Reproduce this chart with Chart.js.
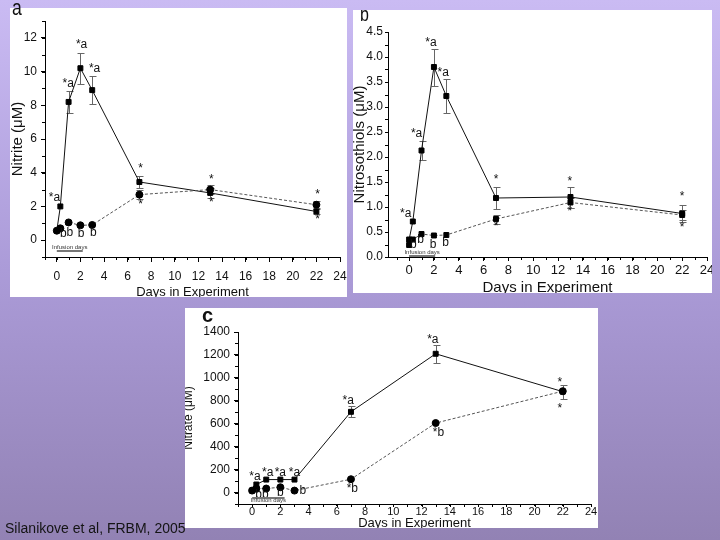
<!DOCTYPE html>
<html>
<head>
<meta charset="utf-8">
<script src="https://cdn.jsdelivr.net/npm/chart.js@4.4.1/dist/chart.umd.min.js"></script>
<style>
  html, body { margin: 0; padding: 0; }
  body {
    width: 720px; height: 540px; position: relative; overflow: hidden;
    background: linear-gradient(to bottom, #cabbf3 0%, #ab9bd8 50%, #9282b4 100%);
    font-family: 'Liberation Sans', Arial, sans-serif;
  }
  .box { position: absolute; background: #fff; overflow: hidden; }
  .box canvas { position: absolute; left: 0; top: 0; }
  .lett { position: absolute; color: #111; line-height: 1; z-index: 2; }
  #cite { position: absolute; left: 5px; top: 521px; font-size: 14px; line-height: 1; color: #141414; }
</style>
</head>
<body>
<div class="box" style="left:10px;top:8px;width:337px;height:289px">
  <canvas id="ca" width="337" height="291"></canvas>
</div>
<div class="lett" style="left:12px;top:-3px;font-size:22px;transform:scaleX(0.8);transform-origin:left top">a</div>
<div class="box" style="left:353px;top:10px;width:359px;height:283px">
  <canvas id="cb" width="359" height="285"></canvas>
  <div class="lett" style="left:7px;top:-6px;font-size:20px;transform:scaleX(0.8);transform-origin:left top">b</div>
</div>
<div class="box" style="left:185px;top:308px;width:413px;height:220px">
  <canvas id="cc" width="413" height="222"></canvas>
  <div class="lett" style="left:17px;top:-3px;font-size:20px;font-weight:bold">c</div>
</div>
<div id="cite">Silanikove et al, FRBM, 2005</div>

<script>
// sampling days (same for all three panels)
const days = [0, 0.3, 1, 2, 3, 7, 13, 22];

// tick labels
const xTicks = [0, 2, 4, 6, 8, 10, 12, 14, 16, 18, 20, 22, 24];
const yTicksA = [0, 2, 4, 6, 8, 10, 12];
const yTicksB = [0, 0.5, 1, 1.5, 2, 2.5, 3, 3.5, 4, 4.5];
const yTicksC = [0, 200, 400, 600, 800, 1000, 1200, 1400];

// a: nitrite (uM)
const nitriteInfused = [0.56, 2.0, 8.2, 10.2, 8.9, 3.45, 2.8, 1.7];
const nitriteInfusedErr = [0, 0, 0.65, 0.93, 0.85, 0.37, 0.3, 0.15];
const nitriteControl = [0.56, 0.7, 1.05, 0.88, 0.9, 2.7, 3.0, 2.1];
const nitriteControlErr = [0, 0, 0, 0, 0, 0.25, 0.25, 0.2];

// b: nitrosothiols (uM)
const rsnoInfused = [0.35, 0.71, 2.13, 3.8, 3.22, 1.18, 1.2, 0.87];
const rsnoInfusedErr = [0, 0, 0.19, 0.37, 0.34, 0.22, 0.21, 0.17];
const rsnoControl = [0.24, 0.35, 0.46, 0.43, 0.44, 0.76, 1.09, 0.84];
const rsnoControlErr = [0, 0, 0, 0, 0, 0.09, 0.1, 0.1];

// c: nitrate (uM)
const nitrateInfused = [18, 70, 113, 113, 113, 704, 1210, 880];
const nitrateInfusedErr = [0, 0, 0, 0, 0, 48, 80, 60];
const nitrateControl = [17, 35, 35, 46, 17, 116, 606, 884];
const nitrateControlErr = [0, 0, 0, 0, 0, 0, 0, 0];

// significance letters: [text, day, value]
const notesA = [
  ['*a', -0.2, 2.5], ['*a', 0.96, 9.3], ['*a', 2.1, 11.6], ['*a', 3.2, 10.2],
  ['b', 0.55, 0.4], ['b', 1.1, 0.45], ['b', 2.05, 0.4], ['b', 3.1, 0.45],
  ['*', 7.1, 4.25], ['*', 7.1, 2.1], ['*', 13.1, 3.6], ['*', 13.1, 2.2],
  ['*', 22.1, 2.7], ['*', 22.1, 1.2]
];
const notesB = [
  ['*a', -0.27, 0.87], ['*a', 0.6, 2.47], ['*a', 1.76, 4.29], ['*a', 2.75, 3.69],
  ['b', 0.35, 0.24], ['b', 0.92, 0.34], ['b', 1.94, 0.24], ['b', 2.94, 0.29],
  ['*', 7, 1.54], ['*', 7, 0.6], ['*', 12.95, 1.5], ['*', 12.95, 0.9],
  ['*', 22, 1.21], ['*', 22, 0.58]
];
const notesC = [
  ['*a', 0.2, 142], ['*a', 1.1, 170], ['*a', 2.0, 170], ['*a', 3.0, 170],
  ['*a', 6.8, 800], ['*a', 12.8, 1335],
  ['bb', 0.7, -17], ['b', 2.0, -5], ['b', 3.6, 20], ['*b', 7.1, 30], ['*b', 13.2, 524],
  ['*', 21.8, 960], ['*', 21.8, 735]
];

// infusion period bar: [from day, to day, line value, text value]
const infusionA = [0, 2.2, -0.66, -0.45];
const infusionB = [0, 2.1, 0.03, 0.1];
const infusionC = [0, 2.3, -48, -72];

const REG = "'Liberation Sans', Arial, sans-serif";

function series(ys, errs, style, dashed) {
  return {
    data: days.map((d, i) => ({x: d, y: ys[i]})),
    err: errs,
    showLine: true,
    borderColor: dashed ? '#555' : '#111',
    borderWidth: 1,
    borderDash: dashed ? [3, 2] : [],
    pointStyle: style,
    pointRadius: 3.5,
    pointBackgroundColor: '#000',
    pointBorderColor: '#000',
    backgroundColor: '#000'
  };
}

// error bars drawn under the markers
const errorBars = {
  id: 'errorBars',
  beforeDatasetsDraw(chart) {
    const {ctx, scales: {x, y}} = chart;
    ctx.save();
    ctx.lineWidth = 1;
    ctx.strokeStyle = '#666';
    chart.data.datasets.forEach(ds => {
      ds.data.forEach((p, i) => {
        const e = ds.err[i];
        if (!e) return;
        const px = Math.round(x.getPixelForValue(p.x)) + 0.5;
        const t = Math.round(y.getPixelForValue(p.y + e)) + 0.5;
        const b = Math.round(y.getPixelForValue(p.y - e)) + 0.5;
        ctx.beginPath();
        ctx.moveTo(px, t); ctx.lineTo(px, b);
        ctx.moveTo(px - 3, t); ctx.lineTo(px + 4, t);
        ctx.moveTo(px - 3, b); ctx.lineTo(px + 4, b);
        ctx.stroke();
      });
    });
    ctx.restore();
  }
};

function extras(items, font, inf, minorX, minorY) {
  return {
    id: 'extras',
    afterDraw(chart) {
      const {ctx, scales: {x, y}} = chart;
      ctx.save();
      // minor ticks
      ctx.strokeStyle = '#000';
      ctx.lineWidth = 1;
      ctx.beginPath();
      for (let v = Math.ceil(x.min / minorX) * minorX; v <= x.max + 1e-9; v += minorX) {
        const px = Math.round(x.getPixelForValue(v)) + 0.5;
        ctx.moveTo(px, x.top); ctx.lineTo(px, x.top + 3);
      }
      for (let v = Math.ceil(y.min / minorY) * minorY; v <= y.max + 1e-9; v += minorY) {
        const py = Math.round(y.getPixelForValue(v)) + 0.5;
        ctx.moveTo(y.right, py); ctx.lineTo(y.right - 3, py);
      }
      ctx.stroke();
      // letters
      ctx.fillStyle = '#111';
      ctx.font = font;
      ctx.textAlign = 'center';
      ctx.textBaseline = 'middle';
      items.forEach(([t, vx, vy]) => ctx.fillText(t, x.getPixelForValue(vx), y.getPixelForValue(vy)));
      // infusion days bar
      const [d0, d1, vLine, vText] = inf;
      ctx.strokeStyle = '#777';
      ctx.lineWidth = 2;
      ctx.beginPath();
      const ly = Math.round(y.getPixelForValue(vLine));
      ctx.moveTo(x.getPixelForValue(d0), ly);
      ctx.lineTo(x.getPixelForValue(d1), ly);
      ctx.stroke();
      ctx.font = '6px ' + REG;
      ctx.fillStyle = '#333';
      ctx.fillText('Infusion days', x.getPixelForValue((d0 + d1) / 2), y.getPixelForValue(vText));
      ctx.restore();
    }
  };
}

function panel(id, p) {
  return new Chart(document.getElementById(id), {
    type: 'scatter',
    data: {datasets: p.datasets},
    options: {
      responsive: false,
      animation: false,
      devicePixelRatio: 1,
      layout: {padding: {top: p.top, right: p.right, left: 0, bottom: 0}},
      plugins: {legend: {display: false}, tooltip: {enabled: false}},
      scales: {
        x: {
          type: 'linear', min: p.xMin, max: 24,
          afterBuildTicks: s => { s.ticks = xTicks.map(v => ({value: v})); },
          afterFit: s => { s.height = p.xH; s.paddingLeft = 0; s.paddingRight = 0; },
          grid: {drawOnChartArea: false, tickLength: p.xTick[0], color: '#000'},
          border: {color: '#000', width: 1},
          ticks: {autoSkip: false, maxRotation: 0,
                  padding: p.xTick[1], color: '#111', font: p.xTickFont},
          title: {display: true, text: 'Days in Experiment', color: '#111', padding: 0, font: p.xTitleFont}
        },
        y: {
          min: p.yMin, max: p.yMax,
          afterBuildTicks: s => { s.ticks = p.yTicks.map(v => ({value: v})); },
          afterFit: s => { s.width = p.yW; s.paddingTop = 0; s.paddingBottom = 0; },
          grid: {drawOnChartArea: false, tickLength: p.yTick[0], color: '#000'},
          border: {color: '#000', width: 1},
          ticks: {autoSkip: false, padding: p.yTick[1], color: '#111', font: p.yTickFont,
                  callback: p.yFmt || (v => v)},
          title: {display: true, text: p.yTitle, color: '#111', padding: p.yTitlePad || 0, font: p.yTitleFont}
        }
      }
    },
    plugins: [errorBars, extras(p.notes, p.notesFont, p.inf, p.minorX, p.minorY)]
  });
}

panel('ca', {
  datasets: [
    series(nitriteControl, nitriteControlErr, 'circle', true),
    series(nitriteInfused, nitriteInfusedErr, 'rect', false)
  ],
  xMin: -1, yMin: -1, yMax: 13, yTicks: yTicksA, minorX: 1, minorY: 1,
  top: 13, right: 7, yW: 35, xH: 42,
  xTick: [5, 7], yTick: [4, 4],
  xTickFont: {family: REG, size: 12, lineHeight: 1.2},
  yTickFont: {family: REG, size: 12, lineHeight: 1.2},
  xTitleFont: {family: REG, size: 13, lineHeight: 1},
  yTitle: 'Nitrite (\u03bcM)',
  yTitleFont: {family: REG, size: 15, lineHeight: 1},
  notes: notesA, notesFont: '12px ' + REG, inf: infusionA
});

panel('cb', {
  datasets: [
    series(rsnoControl, rsnoControlErr, 'rect', true),
    series(rsnoInfused, rsnoInfusedErr, 'rect', false)
  ],
  xMin: -1.7, yMin: 0, yMax: 4.5, yTicks: yTicksB, minorX: 1, minorY: 0.25,
  yFmt: v => v.toFixed(1),
  top: 22, right: 5, yW: 35, xH: 38,
  xTick: [4, 2], yTick: [3, 2],
  xTickFont: {family: REG, size: 13, lineHeight: 1.2},
  yTickFont: {family: REG, size: 12, lineHeight: 1.2},
  xTitleFont: {family: REG, size: 15, lineHeight: 1},
  yTitle: 'Nitrosothiols (\u03bcM)',
  yTitleFont: {family: REG, size: 15, lineHeight: 1},
  yTitlePad: {top: -1},
  notes: notesB, notesFont: '12px ' + REG, inf: infusionB
});

panel('cc', {
  datasets: [
    series(nitrateControl, nitrateControlErr, 'circle', true),
    series(nitrateInfused, nitrateInfusedErr, 'rect', false)
  ],
  xMin: -1, yMin: -100, yMax: 1400, yTicks: yTicksC, minorX: 1, minorY: 100,
  top: 24, right: 7, yW: 53, xH: 26,
  xTick: [2, 0], yTick: [4, 4],
  xTickFont: {family: REG, size: 11, lineHeight: 1.1},
  yTickFont: {family: REG, size: 12, lineHeight: 1.1},
  xTitleFont: {family: REG, size: 13, lineHeight: 1},
  yTitle: 'Nitrate (\u03bcM)',
  yTitleFont: {family: REG, size: 12, lineHeight: 1},
  yTitlePad: {top: -2},
  notes: notesC, notesFont: '12px ' + REG, inf: infusionC
});
</script>
</body>
</html>
